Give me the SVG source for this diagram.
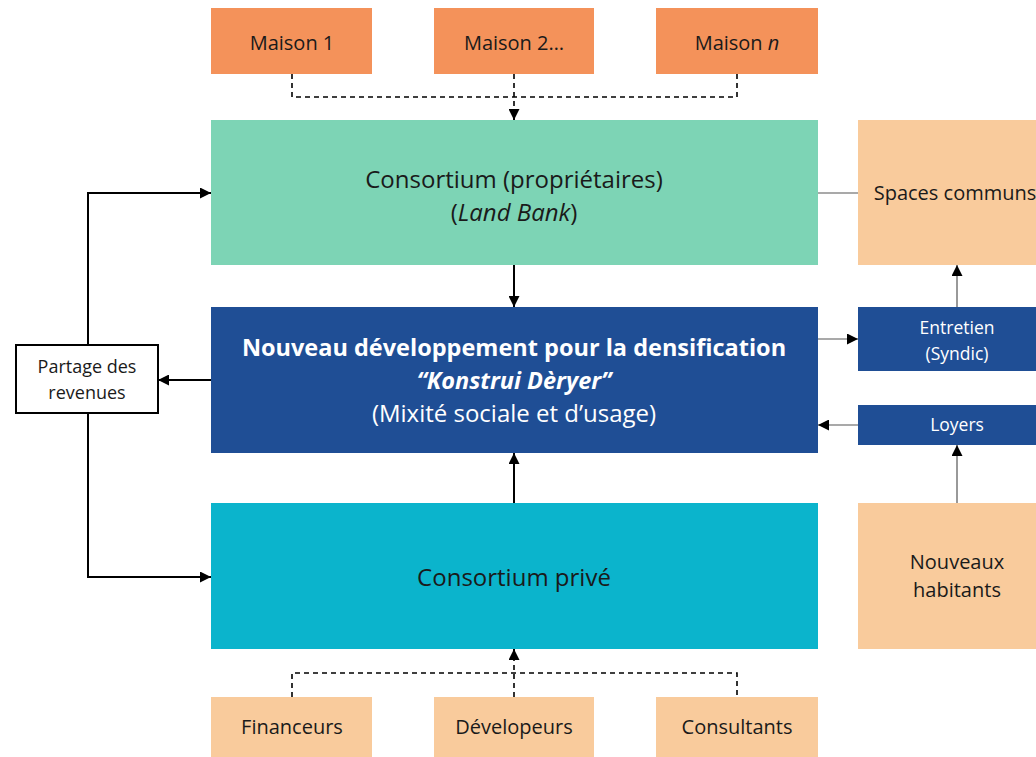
<svg xmlns="http://www.w3.org/2000/svg" width="1036" height="757" viewBox="0 0 1036 757">
  <style>
    text { font-family: "Open Sans", Lato, "Liberation Sans", sans-serif; text-anchor: middle; }
    .orange { fill: #F4925A; }
    .peach { fill: #F9CB9C; }
    .mint { fill: #7DD4B5; }
    .navy { fill: #1F4E95; }
    .cyan { fill: #0BB4CC; }
    .dark { fill: #1a1a1a; }
    .white { fill: #ffffff; }
    .thick { stroke: #000; stroke-width: 2; fill: none; }
    .dash { stroke: #000; stroke-width: 1.6; fill: none; stroke-dasharray: 5 4; }
    .thin { stroke: #555; stroke-width: 1.2; fill: none; }
  </style>
  <defs>
    <marker id="arrBig" viewBox="0 0 10 10" refX="10" refY="5" markerWidth="11" markerHeight="11" markerUnits="userSpaceOnUse" orient="auto">
      <path d="M0,0 L10,5 L0,10 z" fill="#000"/>
    </marker>
  </defs>

  <rect width="1036" height="757" fill="#ffffff"/>

  <!-- owners' houses -->
  <g id="maison1"><rect class="orange" x="211" y="8" width="161" height="66"/><text class="dark" x="292" y="50" font-size="20">Maison 1</text></g>
  <g id="maison2"><rect class="orange" x="434" y="8" width="160" height="66"/><text class="dark" x="514" y="50" font-size="20">Maison 2…</text></g>
  <g id="maisonN"><rect class="orange" x="656" y="8" width="162" height="66"/><text class="dark" x="737" y="50" font-size="20">Maison <tspan font-style="italic">n</tspan></text></g>

  <!-- owners' consortium -->
  <g id="consortium-proprietaires">
    <rect class="mint" x="211" y="120" width="607" height="145"/>
    <text class="dark" x="514" y="188" font-size="24">Consortium (propriétaires)</text>
    <text class="dark" x="514" y="221" font-size="24">(<tspan font-style="italic">Land Bank</tspan>)</text>
  </g>

  <!-- new development -->
  <g id="nouveau-developpement">
    <rect class="navy" x="211" y="307" width="607" height="146"/>
    <text class="white" x="514" y="356" font-size="23.5" font-weight="bold">Nouveau développement pour la densification</text>
    <text class="white" x="514" y="389" font-size="23.5" font-weight="bold" font-style="italic">“Konstrui Dèryer”</text>
    <text class="white" x="514" y="422" font-size="24">(Mixité sociale et d’usage)</text>
  </g>

  <!-- private consortium -->
  <g id="consortium-prive">
    <rect class="cyan" x="211" y="503" width="607" height="146"/>
    <text class="dark" x="514" y="586" font-size="24">Consortium privé</text>
  </g>

  <!-- private partners -->
  <g id="financeurs"><rect class="peach" x="211" y="697" width="161" height="62"/><text class="dark" x="292" y="734" font-size="20">Financeurs</text></g>
  <g id="developeurs"><rect class="peach" x="434" y="697" width="160" height="62"/><text class="dark" x="514" y="734" font-size="20">Dévelopeurs</text></g>
  <g id="consultants"><rect class="peach" x="656" y="697" width="162" height="62"/><text class="dark" x="737" y="734" font-size="20">Consultants</text></g>

  <!-- right column -->
  <g id="spaces-communs">
    <rect class="peach" x="858" y="120" width="200" height="145"/>
    <text class="dark" x="955" y="200" font-size="20">Spaces communs</text>
  </g>
  <g id="entretien">
    <rect class="navy" x="858" y="307" width="200" height="64"/>
    <text class="white" x="957" y="334" font-size="17.5">Entretien</text>
    <text class="white" x="957" y="360" font-size="17.5">(Syndic)</text>
  </g>
  <g id="loyers">
    <rect class="navy" x="858" y="405" width="200" height="40"/>
    <text class="white" x="957" y="431" font-size="17.5">Loyers</text>
  </g>
  <g id="nouveaux-habitants">
    <rect class="peach" x="858" y="503" width="200" height="146"/>
    <text class="dark" x="957" y="569" font-size="20">Nouveaux</text>
    <text class="dark" x="957" y="597" font-size="20">habitants</text>
  </g>

  <!-- revenue sharing -->
  <g id="partage">
    <rect x="16" y="345" width="142" height="68" fill="#fff" stroke="#000" stroke-width="2"/>
    <text class="dark" x="87" y="373" font-size="18">Partage des</text>
    <text class="dark" x="87" y="399" font-size="18">revenues</text>
  </g>

  <!-- connectors -->
  <g id="connectors">
    <!-- houses into the owners' consortium -->
    <path class="dash" d="M292,74 V97 H737 V74 M514,74 V113"/>
    <line class="thick" x1="514" y1="112" x2="514" y2="120" marker-end="url(#arrBig)"/>
    <!-- partners into the private consortium -->
    <path class="dash" d="M292,697 V673 H737 V697 M514,697 V657"/>
    <line class="thick" x1="514" y1="658" x2="514" y2="649" marker-end="url(#arrBig)"/>
    <!-- core vertical flows -->
    <line class="thick" x1="514" y1="265" x2="514" y2="307" marker-end="url(#arrBig)"/>
    <line class="thick" x1="514" y1="503" x2="514" y2="453" marker-end="url(#arrBig)"/>
    <!-- revenue sharing -->
    <line class="thick" x1="211" y1="380" x2="158" y2="380" marker-end="url(#arrBig)"/>
    <path class="thick" d="M88,345 V193 H211" marker-end="url(#arrBig)"/>
    <path class="thick" d="M88,413 V577 H211" marker-end="url(#arrBig)"/>
    <!-- right-hand links -->
    <line class="thin" x1="818" y1="193" x2="858" y2="193"/>
    <line class="thin" x1="818" y1="339" x2="858" y2="339" marker-end="url(#arrBig)"/>
    <line class="thin" x1="957" y1="307" x2="957" y2="265" marker-end="url(#arrBig)"/>
    <line class="thin" x1="858" y1="425" x2="818" y2="425" marker-end="url(#arrBig)"/>
    <line class="thin" x1="957" y1="503" x2="957" y2="445" marker-end="url(#arrBig)"/>
  </g>
</svg>
